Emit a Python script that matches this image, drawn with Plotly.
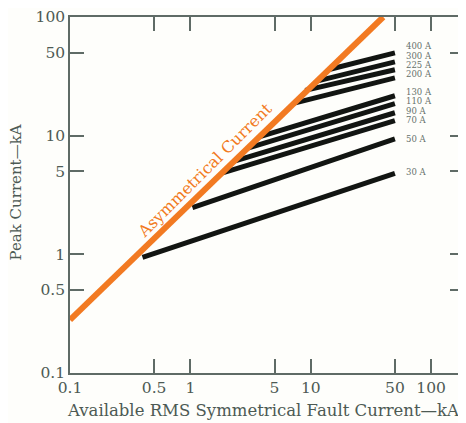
import numpy as np
import plotly.graph_objects as go

# Asymmetrical current reference line (RMS kA -> peak kA)
asym_rms = [0.1, 40.0]
asym_peak = [0.28, 100.0]

# Fuse let-through lines
fuse_labels = ["400 A", "300 A", "225 A", "200 A", "130 A", "110 A", "90 A", "70 A", "50 A", "30 A"]
start_rms = [14.2, 11.2, 9.0, 7.3, 3.78, 3.0, 2.32, 1.85, 1.04, 0.40]
start_peak = [36.1, 28.8, 24.1, 18.8, 9.8, 7.85, 6.1, 4.86, 2.48, 0.944]
end_rms = [50, 50, 50, 50, 50, 50, 50, 50, 50, 50]
end_peak = [49.8, 41.9, 35.9, 30.7, 21.7, 18.6, 15.6, 13.4, 9.4, 4.8]

tick_vals = [0.1, 0.5, 1, 5, 10, 50, 100]
tick_text = ["0.1", "0.5", "1", "5", "10", "50", "100"]

label_shift = [7, 6, 5, 4, 4, 3, 2, 1, 0, 1]

TXT = "#4d5a54"
AX = "#5f6b66"
ORANGE = "#f27a22"
FONT = "DejaVu Serif"

fig = go.Figure()
for i in range(len(fuse_labels)):
    fig.add_trace(go.Scatter(x=[start_rms[i], end_rms[i]], y=[start_peak[i], end_peak[i]],
                             mode="lines", line=dict(color="#121512", width=5),
                             hoverinfo="skip", showlegend=False))
fig.add_trace(go.Scatter(x=asym_rms, y=asym_peak, mode="lines",
                         line=dict(color=ORANGE, width=6), showlegend=False, hoverinfo="skip"))

annotations = []
for i, lab in enumerate(fuse_labels):
    annotations.append(dict(x=np.log10(end_rms[i]), y=np.log10(end_peak[i]), xref="x", yref="y",
                            text=lab, showarrow=False, xanchor="left", yanchor="middle",
                            xshift=10, yshift=label_shift[i], borderpad=0,
                            font=dict(family=FONT, size=8.5, color="#66716b")))
annotations.append(dict(x=np.log10(1.31), y=np.log10(5.08), xref="x", yref="y",
                        text="Asymmetrical Current", showarrow=False, textangle=-45,
                        xanchor="center", yanchor="middle",
                        font=dict(family=FONT, size=16, color=ORANGE)))
annotations.append(dict(x=0, y=0.507, xref="paper", yref="paper", xshift=-54,
                        xanchor="center", yanchor="middle",
                        text="Peak Current—kA", showarrow=False, textangle=-90,
                        font=dict(family=FONT, size=15, color=TXT)))
annotations.append(dict(x=0.49, y=0, xref="paper", yref="paper", yshift=-37,
                        xanchor="center", yanchor="middle",
                        text="Available RMS Symmetrical Fault Current—kA", showarrow=False,
                        font=dict(family=FONT, size=16.5, color=TXT)))

axis_common = dict(showgrid=False, zeroline=False, showline=True, linecolor=AX, linewidth=1.5,
                   mirror="ticks", ticks="inside", ticklen=14, tickwidth=1.5, tickcolor=AX,
                   tickvals=tick_vals, ticktext=tick_text, ticklabeloverflow="allow",
                   tickfont=dict(family=FONT, size=15.5, color=TXT))
fig.update_xaxes(type="log", range=[-1, 2.273], **axis_common)
fig.update_yaxes(type="log", range=[-1, 2], **axis_common)

# page body has an 8px default margin, so the figure is sized to fit the window
fig.update_layout(width=458, height=415, margin=dict(l=62, r=0, t=8, b=50),
                  plot_bgcolor="#fefefb", paper_bgcolor="#fefefb",
                  annotations=annotations, showlegend=False)
fig.write_html("out.html")
